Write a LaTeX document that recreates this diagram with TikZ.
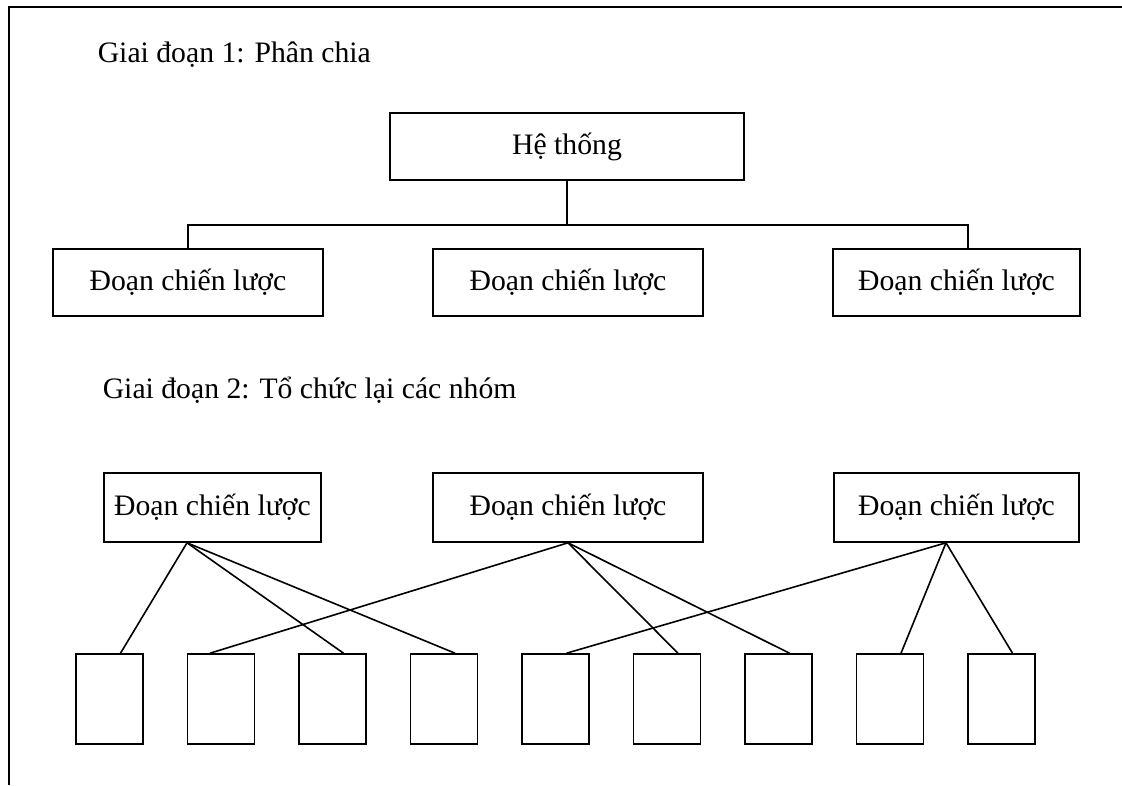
\documentclass[tikz,border=0pt]{standalone}
\usepackage{fontspec}
\setmainfont{Liberation Serif}

\begin{document}
\begin{tikzpicture}[
    x=1pt, y=-1pt, line width=1.6pt,
    font=\fontsize{29.7}{34}\selectfont,
    box/.style={draw, inner sep=0pt, minimum height=67pt},
    slot/.style={draw, inner sep=0pt, minimum width=67pt, minimum height=90pt},
    stage/.style={anchor=base west, inner sep=0pt}
]
\useasboundingbox (0,0) rectangle (1122,785);
\draw (9,785) -- (9,7) -- (1122,7);

% Giai doan 1
\node[stage] (s1) at (97,62) {Giai đoạn 1: Phân chia};
\node[box, minimum width=354pt] (sys) at (567,146.5) {Hệ thống};
\node[box, minimum width=270pt] (c1) at (188,282.5) {Đoạn chiến lược};
\node[box, minimum width=270pt] (c2) at (568,282.5) {Đoạn chiến lược};
\node[box, minimum width=247pt] (c3) at (956.5,282.5) {Đoạn chiến lược};

\coordinate (bus) at (567,225);
\draw (sys.south) -- (bus);
\draw (c1.north) |- (bus);
\draw ([xshift=11.5pt]c3.north) |- (bus);

% Giai doan 2
\node[stage] (s2) at (102,398) {Giai đoạn 2: Tổ chức lại các nhóm};
\node[box, minimum width=217pt, minimum height=69pt] (sa) at (212.5,507.5) {Đoạn chiến lược};
\node[box, minimum width=270pt, minimum height=69pt] (sb) at (568,507.5) {Đoạn chiến lược};
\node[box, minimum width=245pt, minimum height=69pt] (sc) at (956.5,507.5) {Đoạn chiến lược};

\foreach \i in {1,...,9}
    \node[slot] (b\i) at ({109.5+111.5*(\i-1)},699) {};

\foreach \j in {1,3,4}
    \draw ([xshift=-25.5pt]sa.south) -- ([xshift=11pt]b\j.north);
\draw (sb.south) -- ([xshift=-11pt]b2.north);
\foreach \j in {6,7}
    \draw (sb.south) -- ([xshift=11pt]b\j.north);
\foreach \j in {5,8,9}
    \draw ([xshift=-10.5pt]sc.south) -- ([xshift=11pt]b\j.north);
\end{tikzpicture}
\end{document}
